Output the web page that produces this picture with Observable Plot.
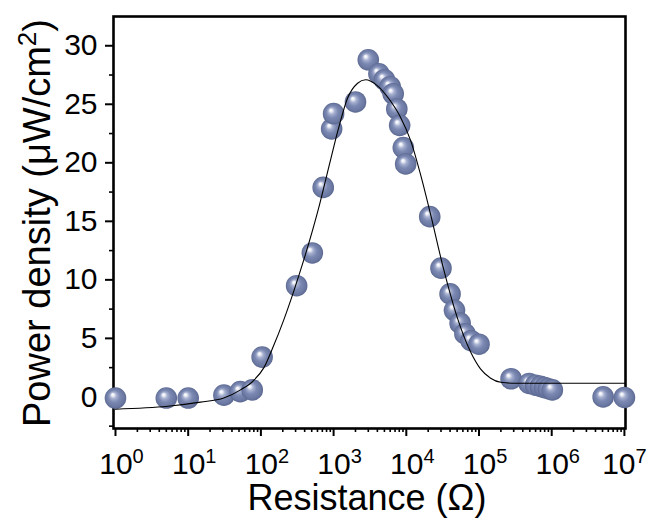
<!DOCTYPE html>
<html><head><meta charset="utf-8">
<script src="https://cdn.jsdelivr.net/npm/d3@7"></script>
<script src="https://cdn.jsdelivr.net/npm/@observablehq/plot@0.6"></script>
<style>html,body{margin:0;padding:0;background:#fff}svg{display:block}</style>
</head><body><div id="chart"></div>
<script>
// Measured points: resistance (Ω) and power density (µW/cm²)
const pointR = [1, 5, 10, 31, 52, 76, 104, 310, 510, 720, 940, 1000, 2000, 3000, 4200, 5000, 6000, 6600, 7400, 8100, 9100, 9800, 21000, 30000, 40000, 46000, 55000, 64000, 78000, 100000, 276000, 490000, 600000, 700000, 800000, 900000, 1020000, 5100000, 10000000];
const pointP = [-0.1, -0.1, -0.1, 0.15, 0.45, 0.6, 3.4, 9.5, 12.3, 17.9, 22.9, 24.2, 25.2, 28.8, 27.6, 27.1, 26.5, 25.9, 24.6, 23.2, 21.3, 19.9, 15.4, 11.0, 8.8, 7.4, 6.3, 5.4, 4.8, 4.5, 1.55, 1.15, 1.0, 0.9, 0.8, 0.7, 0.6, 0.0, -0.05];
// Fitted curve
const curveR = [1, 5.25, 14.8, 30.9, 52.5, 79.4, 110, 148, 204, 282, 389, 603, 912, 1175, 1549, 2138, 2754, 3981, 6026, 8318, 11482, 15849, 21380, 32359, 50119, 75858, 104713, 144544, 199526, 316228, 10350000];
const curveP = [-1.05, -0.8, -0.45, -0.1, 0.6, 1.4, 2.5, 4.3, 6.5, 9.0, 11.7, 15.8, 20.3, 23.0, 25.5, 26.8, 27.1, 26.6, 25.3, 23.9, 21.9, 18.9, 15.7, 11.0, 6.8, 3.9, 2.4, 1.6, 1.25, 1.17, 1.17];
// Axis ticks
const xMajorTicks = [1, 10, 100, 1000, 10000, 100000, 1000000, 10000000];
const xMinorTicks = [];
for (const d of xMajorTicks.slice(0, -1)) for (let k = 2; k <= 9; k++) xMinorTicks.push(k * d);
const yMajorTicks = [0, 5, 10, 15, 20, 25, 30];
const yMinorTicks = [-2.5, 2.5, 7.5, 12.5, 17.5, 22.5, 27.5];

const points = pointR.map((r, i) => ({r, p: pointP[i]}));
const curve = curveR.map((r, i) => ({r, p: curveP[i]}));

const plot = Plot.plot({
  width: 649, height: 521,
  marginLeft: 113, marginRight: 24, marginTop: 16, marginBottom: 93,
  style: {fontFamily: "'Liberation Sans', Arial, sans-serif", background: "#fff", color: "#000", overflow: "visible"},
  x: {type: "log", domain: [0.939, 1.035e7]},
  y: {domain: [-2.7, 32.5]},
  marks: [
    Plot.axisX({ticks: xMinorTicks, tickSize: 4, strokeWidth: 1.6, tickFormat: () => "", label: null}),
    Plot.axisX({ticks: xMajorTicks, tickSize: 8, strokeWidth: 2, tickPadding: 16, fontSize: 30,
      tickFormat: d => "10^" + Math.round(Math.log10(d)), label: null}),
    Plot.axisY({ticks: yMinorTicks, tickSize: 4, strokeWidth: 1.6, tickFormat: () => "", label: null}),
    Plot.axisY({ticks: yMajorTicks, tickSize: 8, strokeWidth: 2, tickPadding: 8, fontSize: 30, label: null}),
    Plot.frame({stroke: "#000", strokeWidth: 2.6}),
    Plot.dot(points, {x: "r", y: "p", r: 10.8, fill: "url(#ball)", stroke: "none"}),
    Plot.line(curve, {x: "r", y: "p", stroke: "#000", strokeWidth: 1.1, curve: "monotone-x"})
  ]
});

const svg = d3.select(plot);
const defs = svg.insert("defs", ":first-child");
const g = defs.append("radialGradient").attr("id", "ball")
  .attr("cx", "50%").attr("cy", "50%").attr("r", "50%").attr("fx", "36%").attr("fy", "33%");
[[0, "#ffffff"], [0.12, "#eef0f7"], [0.3, "#a5afcf"], [0.55, "#7b88b2"], [0.85, "#6a78a2"], [1, "#5b6891"]]
  .forEach(([o, c]) => g.append("stop").attr("offset", o).attr("stop-color", c));

svg.selectAll('g[aria-label="x-axis tick label"] text').each(function () {
  const t = d3.select(this);
  const s = t.text();
  if (!s.includes("^")) return;
  const [b, e] = s.split("^");
  t.text(null).attr("dx", e === "7" ? 0 : 6);
  t.append("tspan").text(b);
  t.append("tspan").attr("dy", "-11").attr("font-size", "20").text(e);
});

svg.append("text")
  .attr("transform", "translate(50,223) rotate(-90)")
  .attr("text-anchor", "middle").attr("font-size", 38).attr("fill", "#000")
  .call(t => {
    t.append("tspan").text("Power density (μW/cm");
    t.append("tspan").attr("dy", "-14").attr("font-size", "26").text("2");
    t.append("tspan").attr("dy", "14").text(")");
  });

svg.append("text")
  .attr("x", 367).attr("y", 510)
  .attr("text-anchor", "middle").attr("font-size", 36).attr("fill", "#000")
  .text("Resistance (Ω)");

document.getElementById("chart").appendChild(plot);
</script>
</body></html>
